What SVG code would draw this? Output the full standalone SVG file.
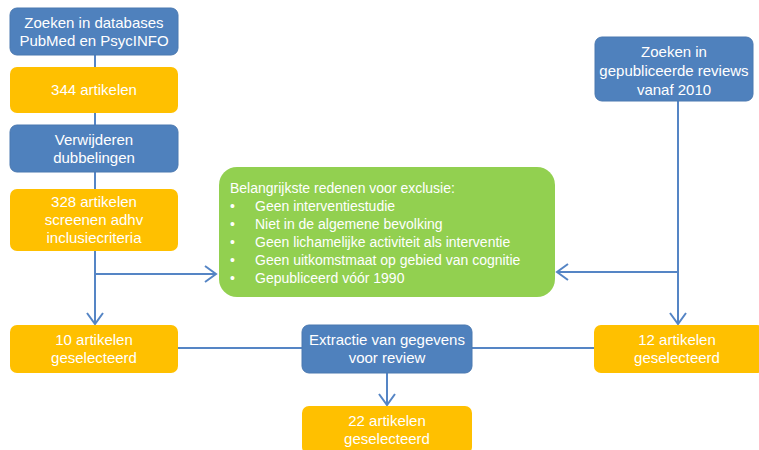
<svg xmlns="http://www.w3.org/2000/svg" width="759" height="450" viewBox="0 0 759 450">
<defs>
<style>
.blue{fill:#4F81BD;stroke:#4A78B0;stroke-width:1}
.orange{fill:#FFC000}
.green{fill:#92D050}
.t{font-family:"Liberation Sans",Arial,sans-serif;font-size:15px;fill:#fff;text-anchor:middle}
.g{font-family:"Liberation Sans",Arial,sans-serif;font-size:14px;fill:#fff}
.ln{stroke:#5585C5;stroke-width:2;fill:none}
</style>
<marker id="ah" markerWidth="14" markerHeight="18" refX="12" refY="9" orient="auto" markerUnits="userSpaceOnUse">
<path d="M1,1 L12,9 L1,17" fill="none" stroke="#5585C5" stroke-width="2"/>
</marker>
</defs>
<rect width="759" height="450" fill="#fff"/>
<g id="connectors">
<line class="ln" x1="95" y1="55" x2="95" y2="67"/>
<line class="ln" x1="95" y1="113" x2="95" y2="125"/>
<line class="ln" x1="95" y1="172" x2="95" y2="189"/>
<line class="ln" x1="95" y1="251" x2="95" y2="324" marker-end="url(#ah)"/>
<line class="ln" x1="95" y1="274" x2="216" y2="274" marker-end="url(#ah)"/>
<line class="ln" x1="678" y1="101" x2="678" y2="324" marker-end="url(#ah)"/>
<line class="ln" x1="678" y1="272" x2="557" y2="272" marker-end="url(#ah)"/>
<line class="ln" x1="178" y1="348" x2="302" y2="348"/>
<line class="ln" x1="472" y1="348" x2="594" y2="348"/>
<line class="ln" x1="387" y1="373" x2="387" y2="405" marker-end="url(#ah)"/>
</g>
<g id="n1"><rect class="blue" x="10" y="8" width="168" height="47" rx="7"/><text class="t" x="94" y="28">Zoeken in databases</text><text class="t" x="94" y="46">PubMed en PsycINFO</text></g>
<g id="n2"><rect class="orange" x="10" y="67" width="168" height="46" rx="7"/><text class="t" x="94" y="95">344 artikelen</text></g>
<g id="n3"><rect class="blue" x="10" y="125" width="168" height="47" rx="7"/><text class="t" x="94" y="145">Verwijderen</text><text class="t" x="94" y="163">dubbelingen</text></g>
<g id="n4"><rect class="orange" x="10" y="189" width="168" height="62" rx="7"/><text class="t" x="94" y="207">328 artikelen</text><text class="t" x="94" y="225">screenen adhv</text><text class="t" x="94" y="243">inclusiecriteria</text></g>
<g id="n5"><rect class="blue" x="595" y="37" width="158" height="64" rx="7"/><text class="t" x="674" y="57">Zoeken in</text><text class="t" x="674" y="76">gepubliceerde reviews</text><text class="t" x="674" y="95">vanaf 2010</text></g>
<g id="n6"><rect class="green" x="219" y="167" width="336" height="130" rx="18"/>
<text class="g" x="230" y="193">Belangrijkste redenen voor exclusie:</text>
<text class="g" x="230" y="211">•</text><text class="g" x="255" y="211">Geen interventiestudie</text>
<text class="g" x="230" y="229">•</text><text class="g" x="255" y="229">Niet in de algemene bevolking</text>
<text class="g" x="230" y="247">•</text><text class="g" x="255" y="247">Geen lichamelijke activiteit als interventie</text>
<text class="g" x="230" y="265">•</text><text class="g" x="255" y="265">Geen uitkomstmaat op gebied van cognitie</text>
<text class="g" x="230" y="283">•</text><text class="g" x="255" y="283">Gepubliceerd vóór 1990</text>
</g>
<g id="n7"><rect class="orange" x="10" y="325" width="168" height="48" rx="7"/><text class="t" x="94" y="345">10 artikelen</text><text class="t" x="94" y="363">geselecteerd</text></g>
<g id="n8"><rect class="blue" x="302" y="325" width="170" height="48" rx="7"/><text class="t" x="387" y="345">Extractie van gegevens</text><text class="t" x="387" y="363">voor review</text></g>
<g id="n9"><rect class="orange" x="594" y="325" width="170" height="48" rx="7"/><text class="t" x="677" y="345">12 artikelen</text><text class="t" x="677" y="363">geselecteerd</text></g>
<g id="n10"><rect class="orange" x="302" y="406" width="170" height="48" rx="7"/><text class="t" x="387" y="426">22 artikelen</text><text class="t" x="387" y="444">geselecteerd</text></g>
</svg>
